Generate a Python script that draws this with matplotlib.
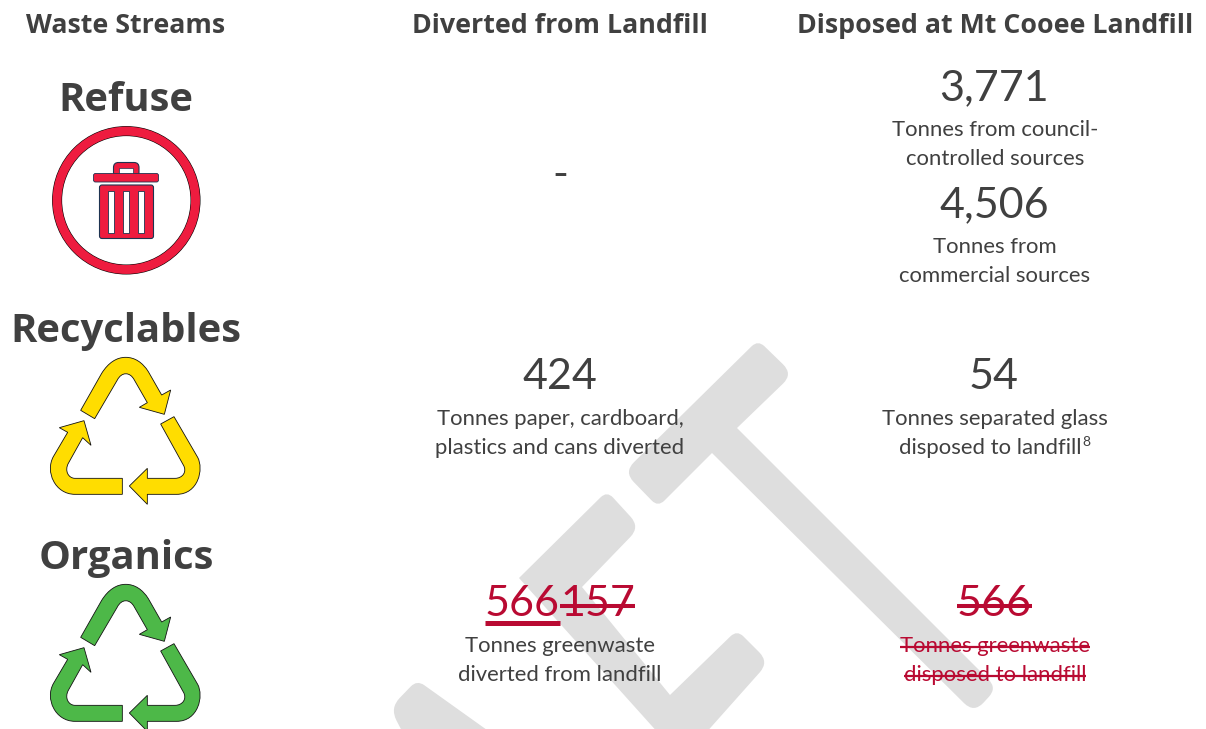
import matplotlib
matplotlib.use("Agg")
import matplotlib.pyplot as plt
from matplotlib.path import Path
from matplotlib.patches import PathPatch, Circle, Rectangle, FancyBboxPatch

plt.rcParams['font.family'] = ['Lato', 'DejaVu Sans']

TEXT = "#404040"
RED = "#B90A32"
GREY = "#DEDEDE"

headers = ["Waste Streams", "Diverted from Landfill", "Disposed at Mt Cooee Landfill"]
streams = ["Refuse", "Recyclables", "Organics"]

council_tonnes = 3771
commercial_tonnes = 4506
recycled_tonnes = 424
glass_tonnes = 54
organics_new = 566
organics_old = 157
organics_disposed = 566

council_label = ["Tonnes from council-", "controlled sources"]
commercial_label = ["Tonnes from", "commercial sources"]
recycled_label = ["Tonnes paper, cardboard,", "plastics and cans diverted"]
glass_label = ["Tonnes separated glass", "disposed to landfill"]
organics_label = ["Tonnes greenwaste", "diverted from landfill"]
disposed_label = ["Tonnes greenwaste", "disposed to landfill"]

fig = plt.figure(figsize=(12.06, 7.29), dpi=100)
ax = fig.add_axes([0, 0, 1, 1])
ax.set_xlim(0, 1206)
ax.set_ylim(729, 0)
ax.axis("off")


def rounded(pts, radius):
    # closed polygon, corners rounded with quadratic curves
    verts, codes = [], []
    n = len(pts)
    for i in range(n):
        x, y = pts[i]
        r = radius[i]
        px, py = pts[i - 1]
        nx, ny = pts[(i + 1) % n]
        d1 = ((px - x)**2 + (py - y)**2)**.5
        d2 = ((nx - x)**2 + (ny - y)**2)**.5
        a = (x + (px - x) * r / d1, y + (py - y) * r / d1)
        b = (x + (nx - x) * r / d2, y + (ny - y) * r / d2)
        verts += [a, (x, y), b]
        codes += [Path.MOVETO if i == 0 else Path.LINETO, Path.CURVE3, Path.CURVE3]
    verts.append(verts[0])
    codes.append(Path.CLOSEPOLY)
    return Path(verts, codes)


# watermark
ax.add_patch(PathPatch(rounded(
    [(758, 340), (793, 374), (737, 428), (997, 688), (974, 713), (712, 453), (658, 507), (624, 472)],
    [9, 14, 0, 12, 14, 0, 9, 14]), fc=GREY, ec="none", zorder=1))
ax.add_patch(PathPatch(rounded(
    [(607, 491), (640, 527), (582, 587), (670, 695), (737, 630), (769, 662), (704, 735),
     (660, 735), (519, 578)],
    [9, 14, 0, 0, 9, 14, 0, 0, 0]), fc=GREY, ec="none", zorder=1))
ax.add_patch(PathPatch(rounded(
    [(417, 680), (494, 735), (404, 735), (390, 708)],
    [9, 0, 0, 14]), fc=GREY, ec="none", zorder=1))

# bin icon
BIN = "#EE1C3F"
NAVY = "#1E3350"
ax.add_patch(Circle((126.3, 200.3), 69.2, fc="none", ec="black", lw=7.2, zorder=2))
ax.add_patch(Circle((126.3, 200.3), 69.2, fc="none", ec=BIN, lw=6.4, zorder=3))
ax.add_patch(FancyBboxPatch((113.5, 162.5), 25.5, 15, boxstyle="round,pad=0,rounding_size=5",
                            fc=BIN, ec=NAVY, lw=.8, zorder=3))
ax.add_patch(Rectangle((119.3, 167.7), 13.4, 6, fc="white", ec=NAVY, lw=.5, zorder=4))
ax.add_patch(FancyBboxPatch((93.5, 173.5), 65, 8.5, boxstyle="round,pad=0,rounding_size=2",
                            fc=BIN, ec=NAVY, lw=.6, zorder=5))
ax.add_patch(FancyBboxPatch((99.5, 185), 54, 53.5, boxstyle="round,pad=0,rounding_size=2.5",
                            fc=BIN, ec=NAVY, lw=.8, zorder=3))
for sx in [107.7, 123.3, 138.3]:
    ax.add_patch(Rectangle((sx, 190.7), 6, 42, fc="white", ec=NAVY, lw=.6, zorder=4))

# recycling arrows, traced in zoom px
L, C = Path.LINETO, Path.CURVE4
top_arrow = [
    (Path.MOVETO, (152, 181)), (L, (215, 70)), (C, (235, 38)), (C, (260, 22)), (C, (287, 22)),
    (C, (315, 22)), (C, (338, 38)), (C, (355, 65)), (L, (395, 135)), (L, (422, 120)),
    (L, (403, 193)), (L, (328, 172)), (L, (352, 158)), (L, (313, 90)), (C, (300, 65)),
    (C, (275, 65)), (C, (262, 90)), (L, (194, 206)), (Path.CLOSEPOLY, (152, 181))]
right_arrow = [
    (Path.MOVETO, (432, 200)), (L, (503, 322)), (C, (522, 357)), (C, (505, 433)), (C, (440, 433)),
    (L, (352, 433)), (L, (352, 463)), (L, (298, 408)), (L, (352, 355)), (L, (352, 385)),
    (L, (435, 385)), (C, (458, 385)), (C, (472, 365)), (C, (460, 345)), (L, (392, 222)),
    (Path.CLOSEPOLY, (432, 200))]
left_arrow = [
    (Path.MOVETO, (277, 385)), (L, (135, 385)), (C, (115, 385)), (C, (103, 362)), (C, (115, 340)),
    (L, (158, 263)), (L, (183, 286)), (L, (162, 212)), (L, (88, 233)), (L, (113, 247)),
    (L, (70, 320)), (C, (45, 365)), (C, (75, 433)), (C, (135, 433)), (L, (277, 433)),
    (Path.CLOSEPOLY, (277, 385))]


def recycle_icon(dy, color):
    for arrow in [top_arrow, right_arrow, left_arrow]:
        codes = [c for c, _ in arrow]
        verts = [(30 + x / 3, 350 + dy + y / 3) for _, (x, y) in arrow]
        ax.add_patch(PathPatch(Path(verts, codes), fc=color, ec="#111111", lw=.6, zorder=3))


recycle_icon(0, "#FFDD00")
recycle_icon(227, "#4DB848")

# headings
for x, h in zip([126, 560, 995], headers):
    ax.text(x, 26, h, ha="center", va="center", fontsize=19.3, fontweight="bold", color=TEXT,
            family="Open Sans", zorder=6)
for y, s in zip([100, 331, 558], streams):
    ax.text(126, y, s, ha="center", va="center", fontsize=28.8, fontweight="bold", color=TEXT,
            family="Open Sans", zorder=6)


def number(x, y, s, color=TEXT, ha="center"):
    return ax.text(x, y, s, ha=ha, va="center", fontsize=31, color=color, zorder=6)


def label(x, y, lines, color=TEXT):
    out = []
    for i, line in enumerate(lines):
        out.append(ax.text(x, y + i * 29, line, ha="center", va="center", fontsize=15.95,
                           color=color, zorder=6))
    return out


def mark(t, y, lw):
    # strike or underline across the width of a drawn text
    box = t.get_window_extent(fig.canvas.get_renderer())
    x0, x1 = box.x0 * 1206 / fig.bbox.width, box.x1 * 1206 / fig.bbox.width
    ax.plot([x0, x1], [y, y], color=RED, lw=lw, solid_capstyle="butt", zorder=7)


number(994, 88, f"{council_tonnes:,}")
label(995, 130, council_label)
number(994, 205, f"{commercial_tonnes:,}")
label(995, 247, commercial_label)

ax.text(560, 175, "-", ha="center", va="center", fontsize=31, color=TEXT, zorder=6)

number(560, 377, f"{recycled_tonnes:,}")
label(560, 419, recycled_label)
number(994, 377, f"{glass_tonnes:,}")
label(995, 419, glass_label[:1])
last = label(990, 448, glass_label[1:])[0]
box = last.get_window_extent(fig.canvas.get_renderer())
ax.text(box.x1 + 1, 442, "8", ha="left", va="center", fontsize=10, color=TEXT, zorder=6)

t = number(560, 604, f"{organics_new}", RED, "right")
mark(t, 622.5, 3.6)
t = number(560, 604, f"{organics_old}", RED, "left")
mark(t, 605.5, 2.9)
label(560, 646, organics_label)

t = number(994, 604, f"{organics_disposed}", RED)
mark(t, 605.5, 2.9)
for t, y in zip(label(995, 646, disposed_label, RED), [647, 676]):
    mark(t, y, 1.6)

fig.savefig("out.png", dpi=100)
